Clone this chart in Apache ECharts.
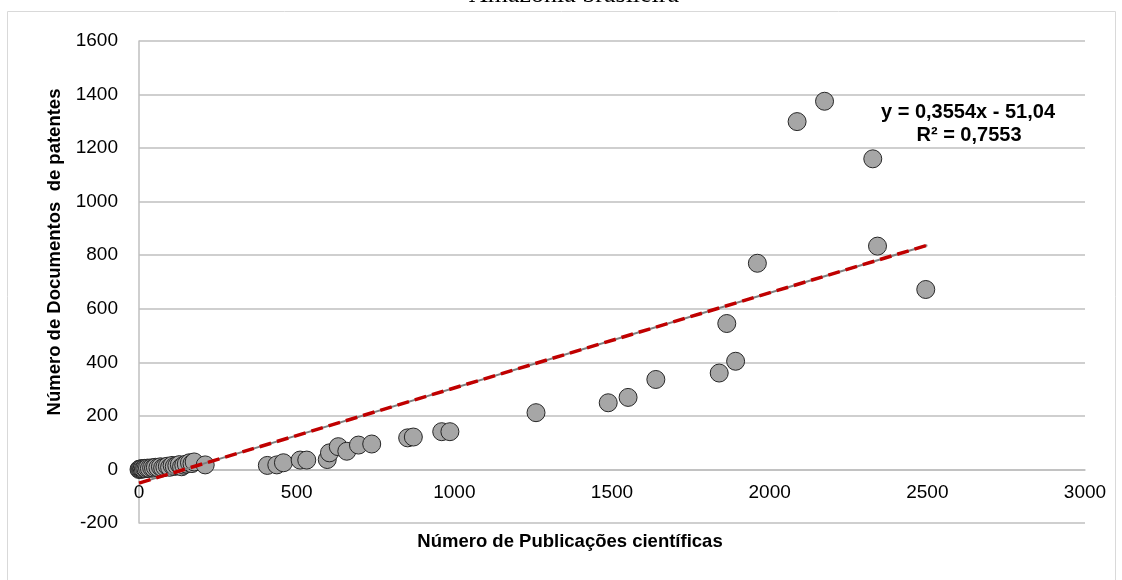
<!DOCTYPE html>
<html>
<head>
<meta charset="utf-8">
<script src="https://cdn.jsdelivr.net/npm/echarts@6/dist/echarts.min.js"></script>
<style>html,body{margin:0;padding:0;background:#fff}#c{width:1122px;height:580px}</style>
</head>
<body>
<div id="c"></div>
<script>
// Number of scientific publications (x) vs number of patent documents (y)
const pubX = [0,2,5,8,10,14,18,22,27,33,40,46,52,60,68,75,82,90,97,105,112,120,128,135,142,150,160,168,175,210,
  407,437,458,511,532,597,604,632,659,696,738,852,870,960,986,1259,1488,1551,1639,1840,1864,1892,1961,2087,2174,2327,2342,2495];
const patY = [0,1,2,1,3,2,4,3,5,4,6,5,8,7,10,6,9,12,8,15,11,14,18,10,16,20,25,22,28,17,
  15,17,25,35,35,37,62,85,68,91,95,118,121,141,141,212,249,269,336,360,545,404,770,1299,1375,1160,834,672];
const trendLine = [[0, -51.04], [2500, 837.46]];
const xTicks = [0, 500, 1000, 1500, 2000, 2500, 3000];
const yTicks = [-200, 0, 200, 400, 600, 800, 1000, 1200, 1400, 1600];
const titleText = 'Amazônia brasileira';
const xTitle = 'Número de Publicações científicas';
const yTitle = 'Número de Documentos  de patentes';
const eqLines = ['y = 0,3554x - 51,04', 'R² = 0,7553'];

const points = pubX.map((x, i) => [x, patY[i]]);
const chart = echarts.init(document.getElementById('c'));
const font = '"Liberation Sans", Arial, sans-serif';
const plotTop = 41, plotBottom = 523;
// shift the x axis up to the y = 0 gridline
const zeroOffset = -(plotBottom - plotTop) * (0 - yTicks[0]) / (yTicks[yTicks.length - 1] - yTicks[0]);
chart.setOption({
  animation: false,
  grid: { left: 139, right: 37, top: plotTop, bottom: 580 - plotBottom },
  xAxis: {
    type: 'value', min: xTicks[0], max: xTicks[xTicks.length - 1], interval: 500,
    offset: zeroOffset,
    axisLine: { show: true, onZero: false, lineStyle: { color: '#BFBFBF', width: 1.5 } },
    axisTick: { show: false },
    splitLine: { show: false },
    axisLabel: { color: '#000', fontSize: 19, fontFamily: font, margin: 14, formatter: v => String(v) }
  },
  yAxis: {
    type: 'value', min: yTicks[0], max: yTicks[yTicks.length - 1], interval: 200,
    axisLine: { show: true, lineStyle: { color: '#BFBFBF', width: 1.5 } },
    axisTick: { show: false },
    splitLine: { show: true, lineStyle: { color: '#BFBFBF', width: 1.5 } },
    axisLabel: { color: '#000', fontSize: 19, fontFamily: font, margin: 21, formatter: v => String(v) }
  },
  series: [
    {
      type: 'scatter', data: points, symbol: 'circle', symbolSize: 18,
      itemStyle: { color: '#A6A6A6', borderColor: '#262626', borderWidth: 1, opacity: 1 },
      z: 2
    },
    {
      type: 'line', data: trendLine, symbol: 'none', silent: true,
      lineStyle: { color: '#7F7F7F', width: 2 }, z: 3
    },
    {
      type: 'line', data: trendLine, symbol: 'none', silent: true,
      lineStyle: { color: '#C00000', width: 3.5, type: [12, 6] }, z: 4
    }
  ],
  graphic: [
    { type: 'rect', shape: { x: 7.5, y: 11.5, width: 1108, height: 600 }, style: { fill: 'none', stroke: '#D9D9D9', lineWidth: 1 }, silent: true },
    { type: 'text', x: 574, y: -5, style: { text: titleText, font: '26px "Liberation Serif", "Times New Roman", serif', fill: '#000', textAlign: 'center', textVerticalAlign: 'middle' } },
    { type: 'text', x: 570, y: 542, style: { text: xTitle, font: 'bold 18.5px ' + font, fill: '#000', textAlign: 'center', textVerticalAlign: 'middle' } },
    { type: 'text', x: 55, y: 252, rotation: Math.PI / 2, style: { text: yTitle, font: 'bold 18.5px ' + font, fill: '#000', textAlign: 'center', textVerticalAlign: 'middle' } },
    { type: 'text', x: 968, y: 112, style: { text: eqLines[0], font: 'bold 20px ' + font, fill: '#000', textAlign: 'center', textVerticalAlign: 'middle' } },
    { type: 'text', x: 969, y: 135, style: { text: eqLines[1], font: 'bold 20px ' + font, fill: '#000', textAlign: 'center', textVerticalAlign: 'middle' } }
  ]
});
</script>
</body>
</html>
